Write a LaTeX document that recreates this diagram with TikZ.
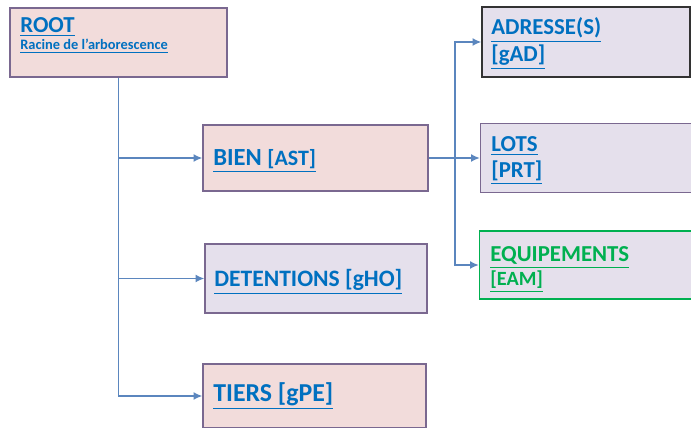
\documentclass[tikz,border=0pt]{standalone}
\usepackage{fontspec}
\setmainfont{Carlito}
\usetikzlibrary{arrows.meta, positioning}

\definecolor{boxpink}{HTML}{F2DCDB}
\definecolor{boxlav}{HTML}{E5E0EC}
\definecolor{boxedge}{HTML}{7A6890}
\definecolor{linkblue}{HTML}{0070C0}
\definecolor{wire}{HTML}{5B86BE}
\definecolor{eqgreen}{HTML}{00B050}

\begin{document}
\begin{tikzpicture}[
      x=0.02cm, y=-0.02cm,
      pinkbox/.style={draw=boxedge, fill=boxpink, line width=0.8pt, inner sep=0pt},
      lavbox/.style={draw=boxedge, fill=boxlav, line width=0.8pt, inner sep=0pt},
      txt/.style={anchor=base west, inner sep=0pt, text=linkblue, font=\bfseries},
      arr/.style={-{Latex[length=5pt,width=4.5pt]}, wire, line width=0.8pt}
    ]
      \clip (0,0) rectangle (691,428);
      \useasboundingbox (0,0) rectangle (691,428);

      % Left column
      \node[pinkbox, minimum width=4.34cm, minimum height=1.38cm] (root) at (118.5,42.5) {};
      \node[pinkbox, minimum width=4.5cm, minimum height=1.32cm] (bien) at (315.5,158) {};
      \node[lavbox, minimum width=4.44cm, minimum height=1.38cm] (detent) at (316,278.5) {};
      \node[pinkbox, minimum width=4.46cm, minimum height=1.28cm] (tiers) at (314.5,396) {};

      % Right column
      \node[lavbox, draw=black!80, minimum width=4.16cm, minimum height=1.4cm] (adr) at (586,42) {};
      \node[lavbox, minimum width=4.3cm, minimum height=1.38cm] (lots) at (588,158) {};
      \node[lavbox, draw=eqgreen, minimum width=4.3cm, minimum height=1.36cm] (equip) at (587,265) {};

      % Labels
      \node[txt, font=\bfseries\fontsize{13}{15}\selectfont] (rootT) at (20,33) {\underline{ROOT}};
      \node[txt, font=\bfseries\fontsize{8.2}{9}\selectfont] (rootS) at (20,50) {\underline{Racine de l'arborescence}};
      \node[txt, font=\bfseries\fontsize{14}{16}\selectfont] (bienT) at (213,166) {\underline{BIEN \fontsize{12.5}{14}\selectfont[AST]}};
      \node[txt, font=\bfseries\fontsize{13.4}{15}\selectfont] (detT) at (214,287) {\underline{DETENTIONS [gHO]}};
      \node[txt, font=\bfseries\fontsize{14.7}{16}\selectfont] (tierT) at (213,402) {\underline{TIERS [gPE]}};
      \node[txt, font=\bfseries\fontsize{13}{15}\selectfont] (adrT) at (491,35) {\underline{ADRESSE(S)}};
      \node[txt, font=\bfseries\fontsize{13}{15}\selectfont] (adrC) at (491,62) {\underline{[gAD]}};
      \node[txt, font=\bfseries\fontsize{13}{15}\selectfont] (lotT) at (491,152) {\underline{LOTS}};
      \node[txt, font=\bfseries\fontsize{13}{15}\selectfont] (lotC) at (491,178) {\underline{[PRT]}};
      \node[txt, text=eqgreen, font=\bfseries\fontsize{13}{15}\selectfont] (eqT) at (490,262) {\underline{EQUIPEMENTS}};
      \node[txt, text=eqgreen, font=\bfseries\fontsize{11.5}{13}\selectfont] (eqC) at (490,286) {\underline{[EAM]}};

      % Root branches
      \draw[arr] (root.south) |- (bien.west);
      \draw[arr] (root.south) |- (detent.west);
      \draw[arr] (root.south) |- (tiers.west);

      % Bien branches
      \coordinate (split) at (455,158);
      \draw[arr] (bien.east) -- (lots.west);
      \draw[arr] (split) |- (adr.west);
      \draw[arr] (split) |- (equip.west);
    \end{tikzpicture}
\end{document}
